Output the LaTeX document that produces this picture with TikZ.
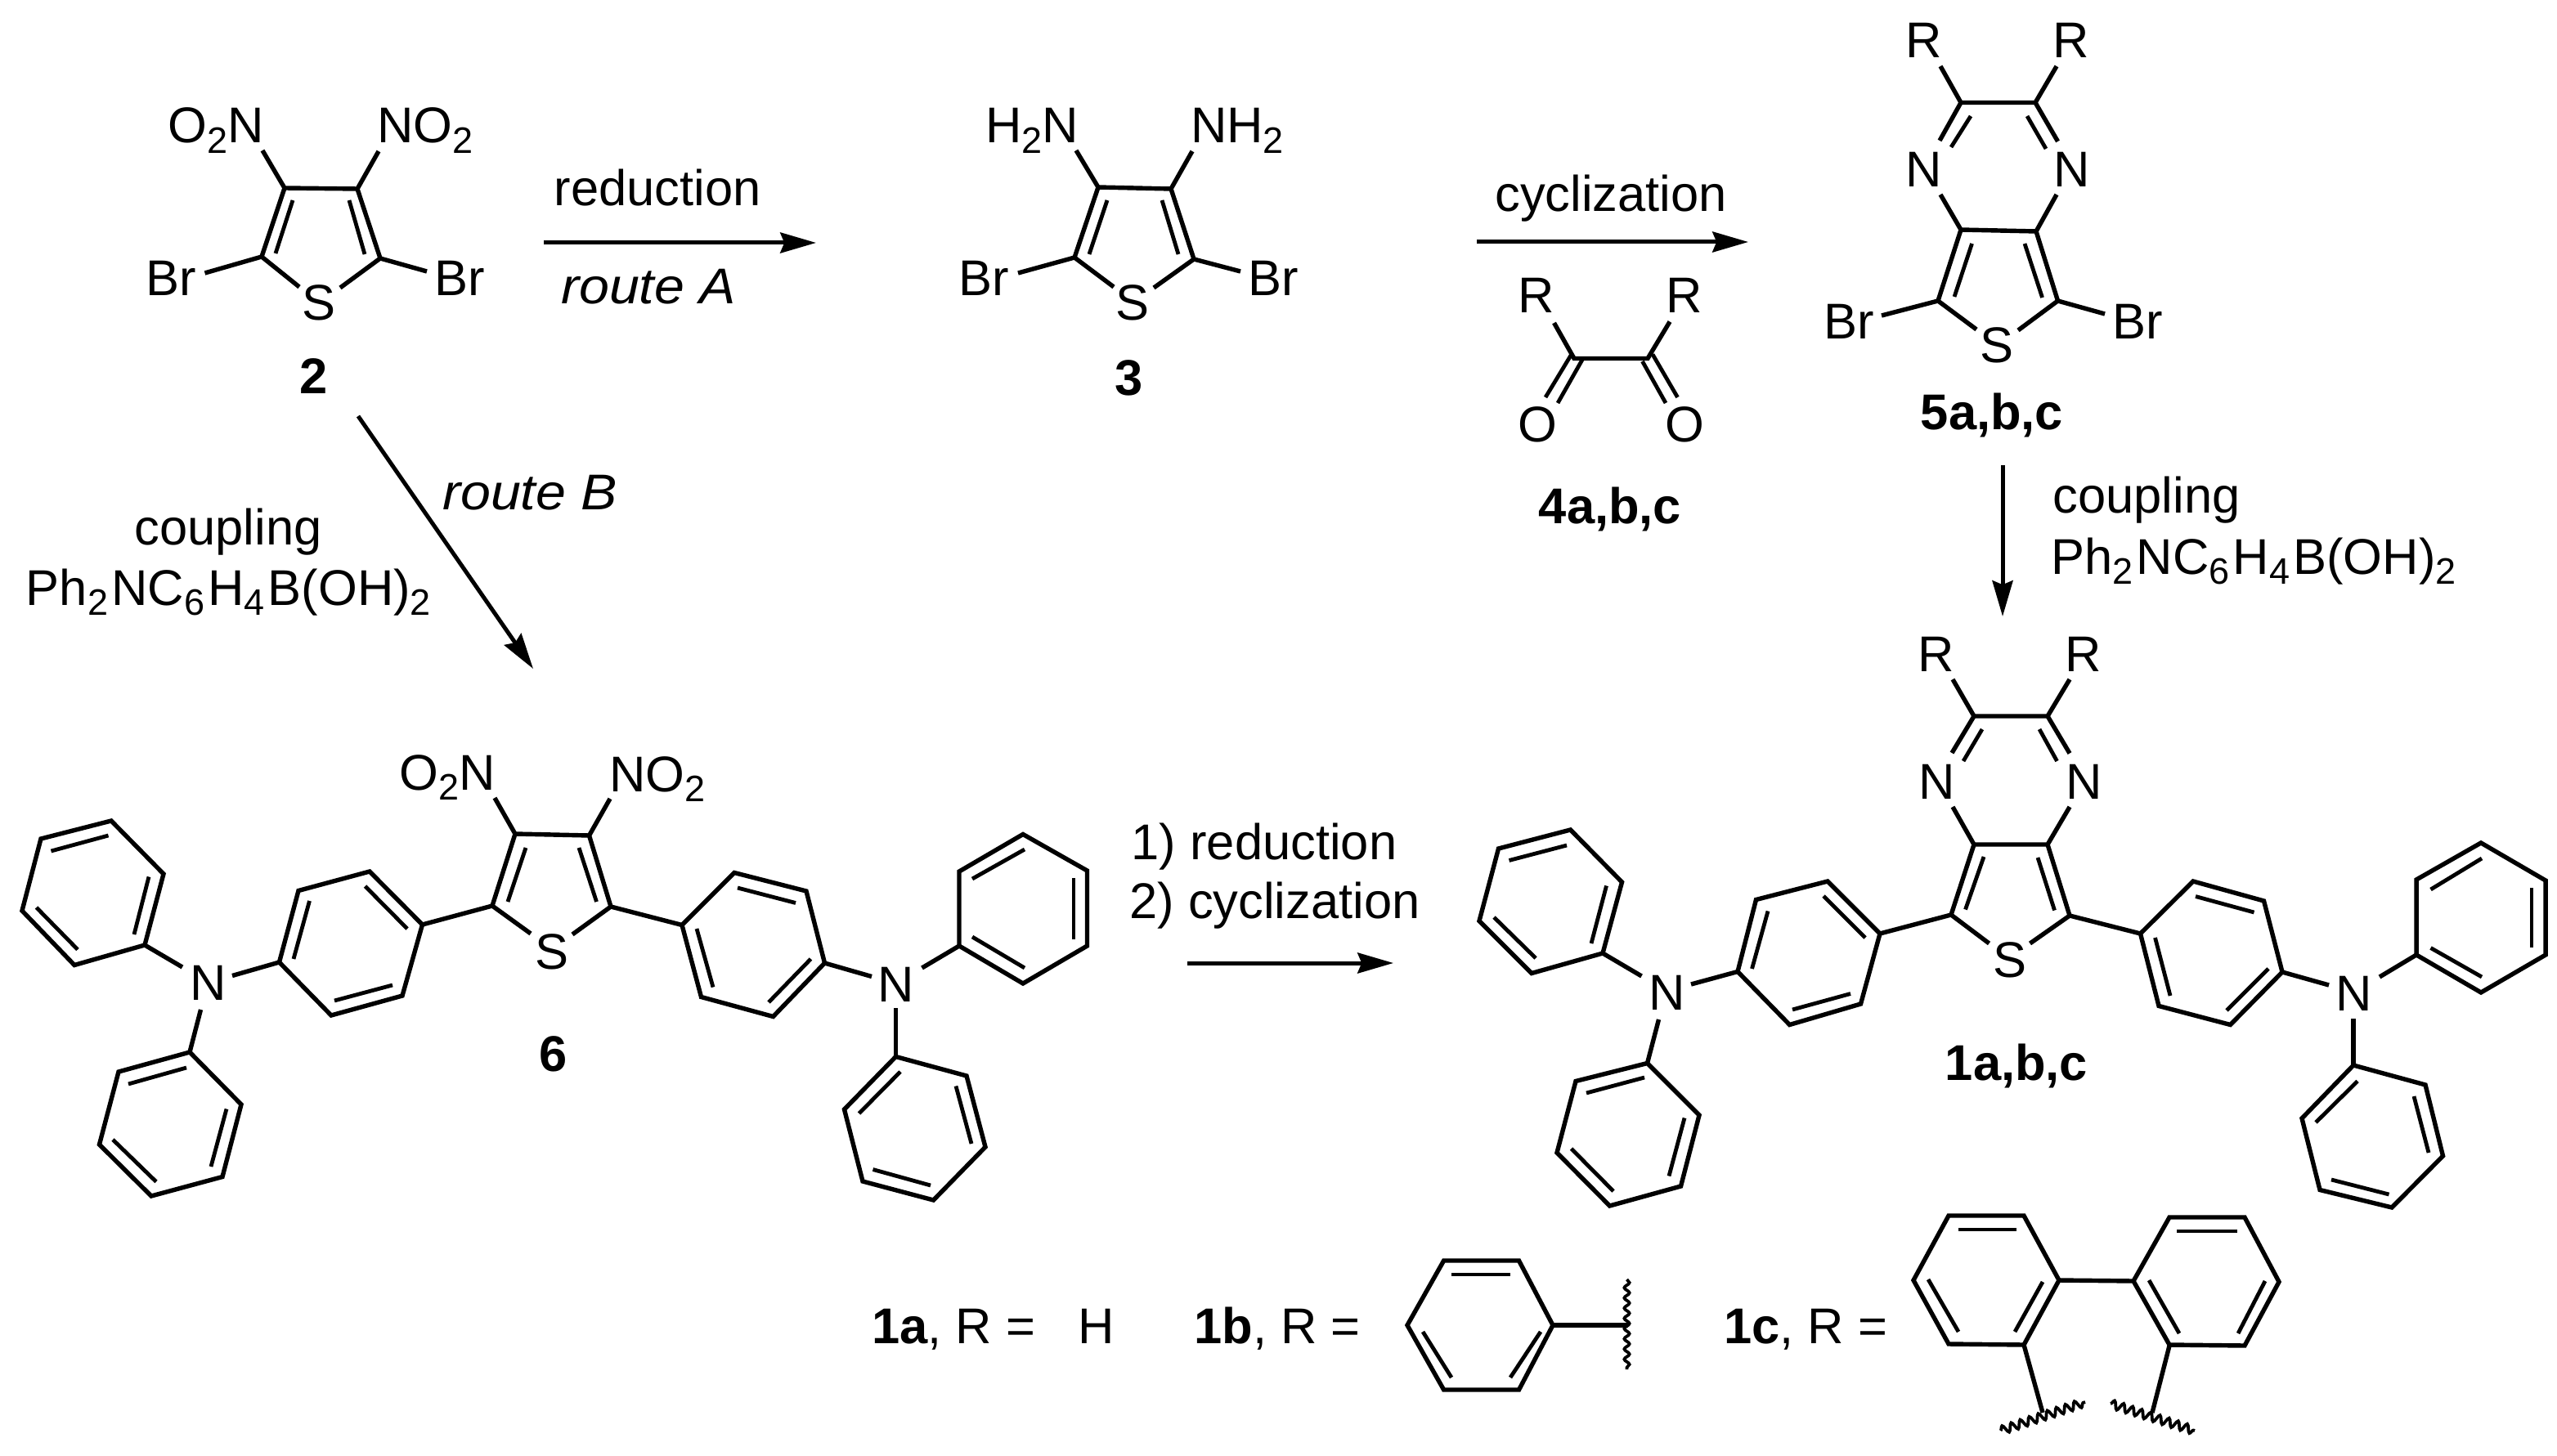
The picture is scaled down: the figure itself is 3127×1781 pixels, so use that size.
\documentclass[tikz,border=0pt]{standalone}
\usepackage{graphicx}
\usepackage{fontspec}
\setmainfont{Liberation Sans}
\usetikzlibrary{arrows.meta,decorations.pathmorphing}
\newcommand\sbs[1]{\raisebox{-3.1pt}{\fontsize{10.8}{11}\selectfont #1}}
\newcommand\sbk[1]{\sbs{#1}\hspace{1.0pt}}
\newcommand\itw[1]{\scalebox{1.08}[1]{\textit{#1}}}
\tikzset{
  bond/.style={line width=1.3pt,line join=miter,black},
  inner/.style={line width=1.15pt,black},
  rxn/.style={line width=1.2pt,black,-{Stealth[length=10.5pt,width=6pt,inset=1.2pt]}},
  txt/.style={inner sep=0pt,outer sep=0pt,anchor=base,font=\fontsize{14.75}{16}\selectfont,text=black},
  wavy/.style={line width=.9pt,black,decorate,decoration={snake,segment length=3pt,amplitude=.75pt}},
  wavyb/.style={line width=.9pt,black,decorate,decoration={snake,segment length=2.8pt,amplitude=1.2pt}},
}
\begin{document}
\begin{tikzpicture}[x=0.24pt,y=-0.24pt]
\useasboundingbox (0,0) rectangle (3127,1781);
% ---------- compound 2
\draw[bond] (321,184)--(348,230)--(437,231)--(463,185);
\draw[bond] (348,230)--(320,314)--(366,351);
\draw[bond] (437,231)--(465,316)--(416,352);
\draw[bond] (320,314)--(250.5,334);
\draw[bond] (465,316)--(522,332);
\draw[inner] (358,245)--(337,310);
\draw[inner] (427,245)--(446,311);
\node[txt] (t2a) at (264,175) {O\sbs{2}N};
\node[txt] (t2b) at (520,175) {NO\sbs{2}};
\node[txt] (t2c) at (209,362) {Br};
\node[txt] (t2d) at (562,362) {Br};
\node[txt] (t2s) at (390,392) {S};
\node[txt] (t2n) at (384,482) {\textbf{2}};
% ---------- arrow A
\coordinate (a1s) at (665,297); \coordinate (a1e) at (998,297);
\draw[rxn] (a1s)--(a1e);
\node[txt] (t1) at (804,252) {reduction};
\node[txt] (t1b) at (793,372) {\itw{route A}};
% ---------- compound 3
\draw[bond] (1316,184)--(1343,229)--(1432,231)--(1458,185);
\draw[bond] (1343,229)--(1314,315)--(1362,351);
\draw[bond] (1432,231)--(1460,317)--(1411,352);
\draw[bond] (1314,315)--(1245,334);
\draw[bond] (1460,317)--(1517,332);
\draw[inner] (1354,245)--(1332,311);
\draw[inner] (1421,245)--(1441,311);
\node[txt] (t3a) at (1262,175) {H\sbs{2}N};
\node[txt] (t3b) at (1513,175) {NH\sbs{2}};
\node[txt] (t3c) at (1203,362) {Br};
\node[txt] (t3d) at (1557,362) {Br};
\node[txt] (t3s) at (1385,392) {S};
\node[txt] (t3n) at (1381,484) {\textbf{3}};
% ---------- arrow cyclization
\coordinate (a2s) at (1806,296); \coordinate (a2e) at (2138,296);
\draw[rxn] (a2s)--(a2e);
\node[txt] (t2z) at (1970,259) {cyclization};
% ---------- compound 4
\draw[bond] (1900.5,395)--(1925,438.5)--(2015,438.5)--(2042,393.5);
\draw[inner] (1922,433)--(1890,486);
\draw[inner] (1935,440)--(1905,493);
\draw[inner] (2008.5,442)--(2037,493);
\draw[inner] (2021,433.5)--(2051.5,486);
\node[txt] (t4a) at (1879,383) {R};
\node[txt] (t4b) at (2060,383) {R};
\node[txt] (t4c) at (1880,541) {O};
\node[txt] (t4d) at (2060,541) {O};
\node[txt] (t4n) at (1969,641) {\textbf{4a,b,c}};
% ---------- compound 5
\draw[bond] (2373,81)--(2398,125.5)--(2489,125.5)--(2515,81);
\draw[bond] (2398,125.5)--(2372,172);
\draw[bond] (2489,125.5)--(2516.5,173);
\draw[inner] (2410,142)--(2386,180);
\draw[inner] (2479,142)--(2502,182);
\draw[bond] (2373,238)--(2398,281)--(2490,283)--(2515,238);
\draw[bond] (2398,281)--(2370,368)--(2417,403);
\draw[bond] (2490,283)--(2516.5,368)--(2468,404);
\draw[inner] (2411.5,298)--(2390,363);
\draw[inner] (2476,298)--(2497.5,364);
\draw[bond] (2370,368)--(2301,386);
\draw[bond] (2516.5,368)--(2574,384);
\node[txt] (t5a) at (2353,71) {R};
\node[txt] (t5b) at (2533,71) {R};
\node[txt] (t5c) at (2353,228.5) {N};
\node[txt] (t5d) at (2534,228.5) {N};
\node[txt] (t5e) at (2261,414.5) {Br};
\node[txt] (t5f) at (2614,414.5) {Br};
\node[txt] (t5s) at (2442,444) {S};
\node[txt] (t5n) at (2436,526) {\textbf{5a,b,c}};
% ---------- arrow 5 -> 1
\coordinate (a3s) at (2449,569); \coordinate (a3e) at (2449,754);
\draw[rxn] (a3s)--(a3e);
\node[txt] (tc1) at (2625,628) {coupling};
\node[txt] (tc2) at (2756,702) {Ph\sbk{2}NC\sbk{6}H\sbk{4}B(OH)\sbs{2}};
% ---------- route B
\coordinate (a4s) at (438,509); \coordinate (a4e) at (652,818);
\draw[rxn] (a4s)--(a4e);
\node[txt] (trb) at (648,624) {\itw{route B}};
\node[txt] (tc3) at (279,666) {coupling};
\node[txt] (tc4) at (279.5,740) {Ph\sbk{2}NC\sbk{6}H\sbk{4}B(OH)\sbs{2}};
% ---------- compound 6
\draw[bond] (136,1004)--(200,1069)--(177,1156)--(91,1180.5)--(27,1114)--(50,1026)--cycle;
\draw[inner] (132.5,1022)--(62.5,1041);
\draw[inner] (182,1072.5)--(164,1143);
\draw[inner] (95,1161.5)--(44.5,1110);
\draw[bond] (177,1156)--(223,1183);
\draw[bond] (284,1193.5)--(341.5,1177);
\draw[bond] (245.5,1235)--(232,1287);
\draw[bond] (232,1287)--(295,1351)--(272,1439.5)--(185,1463)--(121.5,1400)--(145,1311)--cycle;
\draw[inner] (228,1306)--(157,1326);
\draw[inner] (277,1356.5)--(258,1427);
\draw[inner] (191,1445.5)--(138,1394);
\draw[bond] (452,1066)--(516.5,1131)--(492,1218)--(405,1242)--(341.5,1177)--(365,1089.5)--cycle;
\draw[inner] (446.5,1084)--(498,1136);
\draw[inner] (378.5,1102)--(359,1173);
\draw[inner] (480,1205)--(409,1224);
\draw[bond] (516.5,1131)--(602,1108);
\draw[bond] (605,976)--(630,1020)--(720.5,1022)--(746,977);
\draw[bond] (630,1020)--(602,1108)--(649,1142);
\draw[bond] (720.5,1022)--(747,1109)--(700,1143);
\draw[inner] (643,1037)--(621,1103);
\draw[inner] (708,1037)--(729.5,1103);
\draw[bond] (747,1109)--(834,1131.5);
\draw[bond] (834,1131.5)--(898,1067.5)--(986,1090)--(1008.5,1178)--(945.5,1243.5)--(857.5,1219.5)--cycle;
\draw[inner] (902,1086)--(973,1104.5);
\draw[inner] (991.5,1173)--(940,1226);
\draw[inner] (852,1136)--(872,1207.5);
\draw[bond] (1008.5,1178)--(1066,1194.5);
\draw[bond] (1127.5,1184)--(1173,1157);
\draw[bond] (1095.5,1233)--(1095.5,1292.5);
\draw[bond] (1173,1157)--(1173,1066)--(1251,1020.5)--(1329.5,1065)--(1329.5,1157)--(1251,1203)--cycle;
\draw[inner] (1189,1075)--(1253,1039);
\draw[inner] (1313,1074)--(1313,1149);
\draw[inner] (1253,1184)--(1189,1146);
\draw[bond] (1095.5,1292.5)--(1182,1316)--(1205,1403)--(1141.5,1468)--(1055,1445)--(1032.5,1357)--cycle;
\draw[inner] (1101,1311)--(1050.5,1362);
\draw[inner] (1169,1328.5)--(1188,1399);
\draw[inner] (1067.5,1430.5)--(1138,1450);
\node[txt] (t6a) at (255,1223) {N};
\node[txt] (t6b) at (547.5,966) {O\sbs{2}N};
\node[txt] (t6c) at (804,968) {NO\sbs{2}};
\node[txt] (t6s) at (675,1185) {S};
\node[txt] (t6d) at (1096,1225) {N};
\node[txt] (t6n) at (677,1310) {\textbf{6}};
% ---------- arrow 6 -> 1
\coordinate (a5s) at (1452,1178); \coordinate (a5e) at (1704,1178);
\draw[rxn] (a5s)--(a5e);
\node[txt] (t7a) at (1546,1051) {1) reduction};
\node[txt] (t7b) at (1559,1123) {2) cyclization};
% ---------- compound 1
\draw[bond] (1920.5,1015)--(1983.5,1079)--(1960,1166)--(1873,1190.5)--(1809,1126.5)--(1832.5,1038)--cycle;
\draw[inner] (1916,1034)--(1845.5,1052.5);
\draw[inner] (1964.5,1083.5)--(1946,1154);
\draw[inner] (1878,1172)--(1827,1122);
\draw[bond] (1960,1166)--(2007.5,1194);
\draw[bond] (2068,1204)--(2125,1188.5);
\draw[bond] (2028.5,1247)--(2014.5,1300.5);
\draw[bond] (2014.5,1300.5)--(2078,1364)--(2055.5,1451)--(1968.5,1475)--(1904,1410)--(1927,1322.5)--cycle;
\draw[inner] (2011,1318)--(1940,1337);
\draw[inner] (2060,1367.5)--(2041,1438.5);
\draw[inner] (1973,1457)--(1921.5,1405);
\draw[bond] (2235,1078)--(2299,1142)--(2275.5,1228)--(2188.5,1253.5)--(2125,1188.5)--(2147.5,1100.5)--cycle;
\draw[inner] (2230,1096)--(2281,1147);
\draw[inner] (2162,1114.5)--(2142.5,1185);
\draw[inner] (2263,1215.5)--(2192,1235);
\draw[bond] (2299,1142)--(2386,1119);
\draw[bond] (2388,831)--(2414,876)--(2504,876)--(2531,831);
\draw[bond] (2414,876)--(2387,921);
\draw[inner] (2424,892)--(2401,931);
\draw[bond] (2504,876)--(2531,921.5);
\draw[inner] (2494,892)--(2515.5,931);
\draw[bond] (2388,987)--(2414,1033)--(2504,1033)--(2531,987);
\draw[bond] (2414,1033)--(2386,1119)--(2432.5,1154);
\draw[bond] (2504,1033)--(2531,1120)--(2482.5,1154);
\draw[inner] (2426,1048)--(2403.5,1112.5);
\draw[inner] (2492,1049)--(2512.5,1113.5);
\draw[bond] (2531,1120)--(2617.5,1142);
\draw[bond] (2617.5,1142)--(2682,1078)--(2768.5,1102)--(2791,1189)--(2727.5,1253.5)--(2640,1230.5)--cycle;
\draw[inner] (2685,1096.5)--(2756.5,1116);
\draw[inner] (2774,1185)--(2723,1236);
\draw[inner] (2635.5,1147)--(2654,1218);
\draw[bond] (2791,1189)--(2848,1205);
\draw[bond] (2910,1195)--(2955,1168);
\draw[bond] (2878,1246)--(2878,1303);
\draw[bond] (2955,1168)--(2955,1076)--(3034,1031)--(3113,1077)--(3113,1168)--(3034,1214)--cycle;
\draw[inner] (2972.5,1088)--(3035,1050);
\draw[inner] (3096,1086)--(3096,1159);
\draw[inner] (3035,1195)--(2972.5,1159.5);
\draw[bond] (2878,1303)--(2966,1327)--(2987.5,1414)--(2925,1477)--(2837,1455.5)--(2815,1368)--cycle;
\draw[inner] (2883,1322.5)--(2832,1373);
\draw[inner] (2952,1341)--(2970,1410);
\draw[inner] (2851,1443)--(2921.5,1461);
\node[txt] (t1a) at (2039,1235) {N};
\node[txt] (t1b2) at (2878.5,1236) {N};
\node[txt] (t1c) at (2368,821) {R};
\node[txt] (t1d) at (2548,821) {R};
\node[txt] (t1e) at (2369,977) {N};
\node[txt] (t1f) at (2549,977) {N};
\node[txt] (t1s) at (2457.5,1195) {S};
\node[txt] (t1n) at (2466,1321) {\textbf{1a,b,c}};
% ---------- R definitions
\node[txt] (tr1) at (1166,1643) {\textbf{1a}, R =};
\node[txt] (tr1h) at (1341,1643) {H};
\node[txt] (tr2) at (1562,1643) {\textbf{1b}, R =};
\node[txt] (tr3) at (2208,1643) {\textbf{1c}, R =};
\draw[bond] (1765.6,1542)--(1857.5,1542)--(1899,1621)--(1857.5,1700)--(1765.6,1700)--(1721,1621)--cycle;
\draw[inner] (1775,1559)--(1847,1559);
\draw[inner] (1740,1629)--(1775,1685);
\draw[inner] (1884,1629)--(1847,1685);
\draw[bond] (1899,1621)--(1990.6,1621);
\draw[wavy] (1989.5,1565)--(1989.5,1675);
\draw[bond] (2383,1487)--(2475,1487)--(2518,1566)--(2475,1645)--(2383,1644)--(2340,1566)--cycle;
\draw[inner] (2395,1504)--(2466,1504);
\draw[inner] (2358,1565)--(2395,1629);
\draw[inner] (2498,1568)--(2464,1629);
\draw[bond] (2653,1489)--(2745,1489)--(2787,1568)--(2745,1646)--(2653,1645)--(2609,1567)--cycle;
\draw[inner] (2662,1506)--(2736,1506);
\draw[inner] (2628,1566)--(2665,1631);
\draw[inner] (2770,1567)--(2737,1631);
\draw[bond] (2518,1566)--(2609,1567);
\draw[bond] (2475,1645)--(2498,1728);
\draw[bond] (2653,1646)--(2632,1728);
\draw[wavyb] (2446.5,1750)--(2550,1715);
\draw[wavyb] (2581,1717)--(2684,1750);
\end{tikzpicture}
\end{document}
